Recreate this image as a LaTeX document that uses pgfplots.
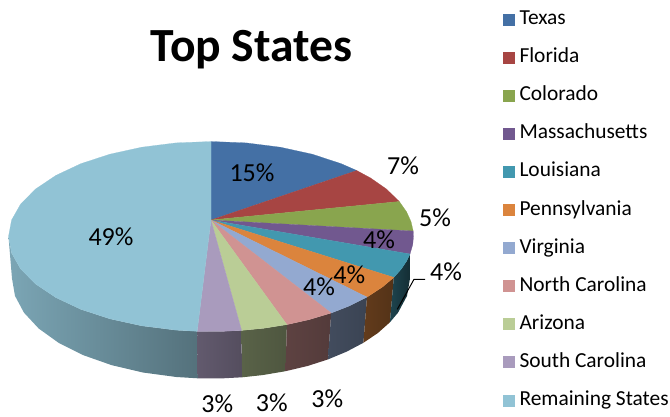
\documentclass[border=0pt]{standalone}
\usepackage{pgfplots}
\pgfplotsset{compat=1.18}
\usepackage{fontspec}
\setmainfont{Carlito}
\definecolor{c1}{HTML}{4470A5}
\definecolor{c2}{HTML}{A74543}
\definecolor{c3}{HTML}{89A54E}
\definecolor{c4}{HTML}{71588F}
\definecolor{c5}{HTML}{4298AF}
\definecolor{c6}{HTML}{DB843D}
\definecolor{c7}{HTML}{93A9D0}
\definecolor{c8}{HTML}{D09392}
\definecolor{c9}{HTML}{BACD96}
\definecolor{c10}{HTML}{A99BBD}
\definecolor{c11}{HTML}{91C3D5}
\begin{document}
\begin{tikzpicture}
\begin{axis}[
  scale only axis, width=670pt, height=416pt,
  xmin=0, xmax=670, ymin=0, ymax=416, y dir=reverse,
  hide axis, clip=false,
  legend image code/.code={\fill[#1,draw=none] (0pt,-6pt) rectangle (12pt,6pt);},
  legend style={at={(axis cs:503,8.5)}, anchor=north west, draw=none, fill=none,
    inner sep=0pt, outer sep=0pt, row sep=16.1pt, column sep=0pt,
    font=\fontsize{21.4}{24}\selectfont,
    nodes={inner sep=0pt, text height=16pt, text depth=6pt},
    cells={anchor=west},
    /tikz/every odd column/.append style={column sep=4.5pt}},
  legend cell align=left,
]
\path[use as bounding box] (axis cs:0,0) rectangle (axis cs:670,416);
% side walls
\addplot[forget plot, draw=none, left color=c11!85!black, right color=c11!58!black] coordinates {
(8.5,236.5)(12,278.5)(15,295.9)(24,312.7)(38.7,328.5)(58.6,342.8)(83.1,355.1)(111.5,365.1)(142.9,372.5)(176.4,377)(197.8,378.3)
(197.2,331.3)(175.8,330.1)(141.7,325.8)(109.8,318.8)(80.8,309.3)(55.9,297.6)(35.6,284)(20.7,269)(11.6,253)} --cycle;
\addplot[forget plot, draw=none, left color=c10!58!black, right color=c10!50!black] coordinates {
(197.2,331.3)(221.6,331.4)(241.6,330.4)(241.9,377.3)(221.4,378.4)(197.8,378.3)} --cycle;
\addplot[forget plot, draw=none, left color=c9!48!black, right color=c9!42!black] coordinates {
(241.6,330.4)(263.4,328.3)(286.9,324.6)(285.5,371.2)(262.5,375.1)(242.1,377.3)} --cycle;
\addplot[forget plot, draw=none, left color=c8!45!black, right color=c8!40!black] coordinates {
(286.9,324.6)(309.2,319.6)(331.2,313)(328,359.4)(307.5,366)(285.5,371.2)} --cycle;
\addplot[forget plot, draw=none, left color=c7!45!black, right color=c7!40!black] coordinates {
(331.2,313)(349.1,306)(367,297.1)(363.4,342.8)(346.7,351.6)(328,359.4)} --cycle;
\addplot[forget plot, draw=none, left color=c6!45!black, right color=c6!38!black] coordinates {
(367,297.1)(382.7,286.8)(393.8,277.4)(389.9,322.3)(377.9,333)(363.4,342.8)} --cycle;
\addplot[forget plot, draw=none, left color=c5!45!black, right color=c5!30!black] coordinates {
(393.8,277.4)(401.3,269)(406.6,261.1)(410,254)(410,278.5)(407,295.9)(398,312.7)(389.9,322.3)} --cycle;
% top face
\addplot[draw=c1, fill=c1, line width=0.2pt] coordinates {
(211,220)(211,141.5)(246.2,142.9)(280.3,147.2)(312.3,154.2)(341.2,163.7)(356.7,170.5)} --cycle;
\addplot[draw=c2, fill=c2, line width=0.2pt] coordinates {
(211,220)(356.7,170.5)(370.6,178)(386.4,189)(399.3,201.5)} --cycle;
\addplot[draw=c3, fill=c3, line width=0.2pt] coordinates {
(211,220)(399.3,201.5)(406.6,211.9)(411,221.6)(413.2,231)} --cycle;
\addplot[draw=c4, fill=c4, line width=0.2pt] coordinates {
(211,220)(413.2,231)(413.5,236.5)(412.7,244.8)(410,254)} --cycle;
\addplot[draw=c5, fill=c5, line width=0.2pt] coordinates {
(211,220)(410,254)(406.6,261.1)(401.3,269)(393.8,277.4)} --cycle;
\addplot[draw=c6, fill=c6, line width=0.2pt] coordinates {
(211,220)(393.8,277.4)(382.7,286.8)(367,297.1)} --cycle;
\addplot[draw=c7, fill=c7, line width=0.2pt] coordinates {
(211,220)(367,297.1)(349.1,306)(331.2,313)} --cycle;
\addplot[draw=c8, fill=c8, line width=0.2pt] coordinates {
(211,220)(331.2,313)(309.2,319.6)(286.9,324.6)} --cycle;
\addplot[draw=c9, fill=c9, line width=0.2pt] coordinates {
(211,220)(286.9,324.6)(263.4,328.3)(241.6,330.4)} --cycle;
\addplot[draw=c10, fill=c10, line width=0.2pt] coordinates {
(211,220)(241.6,330.4)(221.6,331.4)(197.2,331.3)} --cycle;
\addplot[draw=c11, fill=c11, line width=0.2pt] coordinates {
(211,220)(197.2,331.3)(175.8,330.1)(141.7,325.8)(109.8,318.8)(80.8,309.3)(55.9,297.6)(35.6,284)(20.7,269)(11.6,253)(8.5,236.5)(11.6,220)(20.7,204)(35.6,189)(55.9,175.4)(80.8,163.7)(109.8,154.2)(141.7,147.2)(175.8,142.9)(211,141.5)} --cycle;
% leader line
\addplot[forget plot, black, line width=1pt] coordinates {(397.3,309.3)(414,279.3)(425,279.3)};
\legend{Texas,Florida,Colorado,Massachusetts,Louisiana,Pennsylvania,Virginia,North Carolina,Arizona,South Carolina,Remaining States}
\node[font=\bfseries\fontsize{47.6}{50}\selectfont, inner sep=0pt] at (axis cs:251.5,50) {Top States};
\begin{scope}[every node/.style={font=\fontsize{26}{28}\selectfont, inner sep=0pt}]
\node at (axis cs:252,172.5) {15\%};
\node at (axis cs:403,165.5) {7\%};
\node at (axis cs:435,217.5) {5\%};
\node at (axis cs:379,239.5) {4\%};
\node at (axis cs:446,272) {4\%};
\node at (axis cs:349.3,275) {4\%};
\node at (axis cs:319,286.7) {4\%};
\node at (axis cs:327.3,399) {3\%};
\node at (axis cs:271.7,402.5) {3\%};
\node at (axis cs:217.3,404) {3\%};
\node at (axis cs:111,236.5) {49\%};
\end{scope}
\end{axis}
\end{tikzpicture}
\end{document}
